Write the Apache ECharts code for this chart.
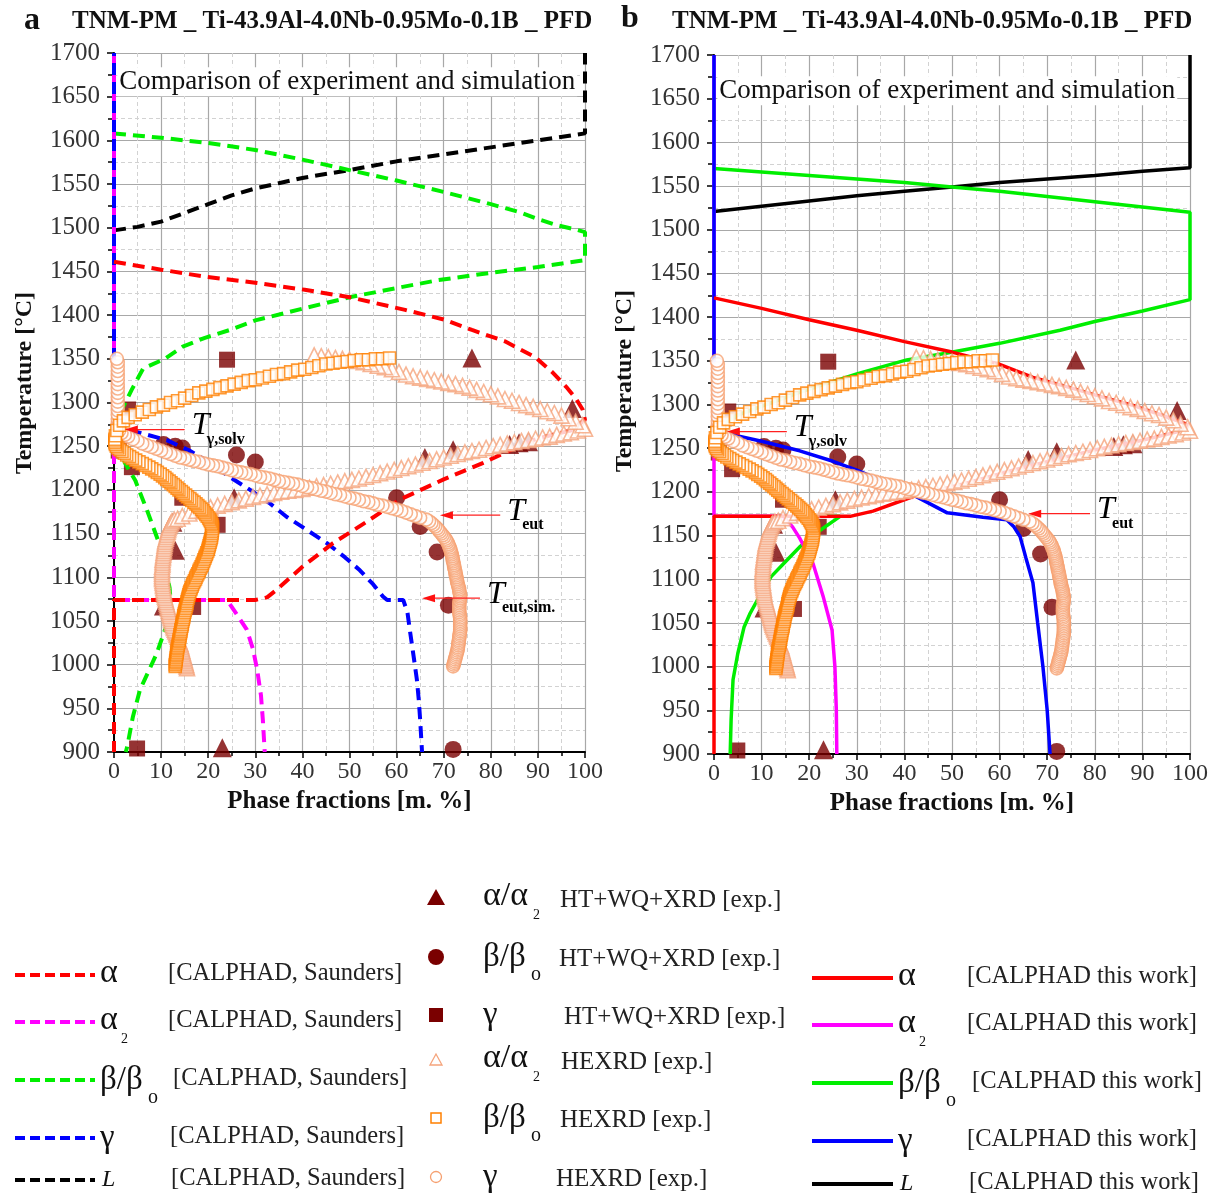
<!DOCTYPE html>
<html>
<head>
<meta charset="utf-8">
<title>TNM-PM phase fractions</title>
<script src="https://cdn.jsdelivr.net/npm/echarts@6.0.0/dist/echarts.min.js"></script>
<style>
html,body{margin:0;padding:0;background:#ffffff;}
#chart{width:1221px;height:1198px;}
</style>
</head>
<body>
<div id="chart"></div>
<script>
// ---------------- data ----------------
const X_TICKS = [0, 10, 20, 30, 40, 50, 60, 70, 80, 90, 100];
const Y_TICKS = [900, 950, 1000, 1050, 1100, 1150, 1200, 1250, 1300, 1350, 1400, 1450, 1500, 1550, 1600, 1650, 1700];
const X_NAME = 'Phase fractions [m. %]';
const Y_NAME = 'Temperature [°C]';
const PANEL_TITLE = 'TNM-PM _ Ti-43.9Al-4.0Nb-0.95Mo-0.1B _ PFD';
const PANEL_LETTERS = ['a', 'b'];
const BOX_TEXT = 'Comparison of experiment and simulation';

// CALPHAD, Saunders (panel a, dashed)  [phase fraction %, T °C]
const SAUNDERS_L = [[0,1497],[5,1501],[10,1507],[15,1517],[20,1527],[25,1537],[30,1545],[35,1551],[40,1557],[50,1566],[60,1576],[70,1584],[80,1592],[90,1600],[100,1608],[100,1700]];
const SAUNDERS_BETA = [[0,1608],[10,1603],[20,1597],[30,1589],[40,1578],[50,1566],[60,1554],[70,1541],[80,1527],[86,1518],[90,1510],[94,1503],[98,1498],[100,1495],[100,1463],[90,1455],[79.4,1448],[68.8,1440],[60,1431],[50.5,1421],[40.5,1408],[30,1394],[24.6,1383],[19.3,1374],[14.6,1364],[10.8,1350],[6.2,1339],[3.8,1315],[1.7,1292],[1.2,1270],[1.4,1250],[2.3,1231],[4.5,1211],[7.2,1174],[9.3,1143],[10.8,1115],[11.8,1088],[12,1075],[11.5,1050],[9,1012],[5.5,971],[4,940],[2.8,906],[2.5,900]];
const SAUNDERS_ALPHA = [[0,1461],[10,1452],[19.3,1444],[30,1437],[40.5,1429],[50.5,1420],[61.8,1406],[70,1395],[76,1383],[83,1370],[89.4,1352],[93,1335],[96,1318],[98,1305],[99.5,1292],[100,1280],[97,1268],[93,1263],[89,1257],[84,1245],[78.4,1231],[70,1212],[60.7,1189],[53.5,1163],[46.5,1139],[40,1112],[34.6,1086],[32.5,1077],[30,1074],[0,1074],[0,900]];
const SAUNDERS_ALPHA2 = [[0,1700],[0,1074],[24,1074],[26,1058],[28.2,1040],[29.5,1018],[30.4,994],[31.2,965],[31.6,937],[32,900]];
const SAUNDERS_GAMMA = [[0,1700],[0,1272],[1.3,1271],[5,1266],[11.2,1257],[16,1245],[20.4,1231],[24.5,1215],[28.9,1200],[33,1185],[36.7,1169],[41,1154],[45.2,1139],[49,1123],[52.2,1108],[55,1092],[57.1,1078],[58,1074],[61.4,1074],[62.3,1060],[62.8,1040],[63.6,1010],[64.3,983],[64.7,960],[65,937],[65.4,900]];

// CALPHAD, this work (panel b, solid)
const THIS_L = [[0,1521],[10,1527],[20,1533],[30,1539],[40,1544],[50,1549],[60,1554],[70,1558],[80,1562],[90,1567],[100,1571],[100,1700]];
const THIS_BETA = [[0,1570],[10,1566],[20,1562],[30,1558],[40,1554],[50,1549],[60,1544],[70,1538],[80,1532],[90,1526],[100,1520],[100,1420],[90,1407],[80,1395],[72.7,1385],[60,1370],[49,1359],[40.5,1351],[30,1335],[18,1314],[10,1298],[5,1288],[2,1278],[1,1268],[2,1250],[6,1230],[10,1215],[13.2,1202],[16,1188],[18.5,1177],[20,1172],[26.5,1172],[22,1155],[18,1137],[15,1120],[12,1103],[9.5,1080],[7.5,1060],[6.3,1045],[5,1015],[4,985],[3.6,940],[3.4,900]];
const THIS_ALPHA = [[0,1422],[10,1410],[20,1397],[30,1385],[40,1372],[50,1360],[60,1346],[67,1331],[75,1319],[80,1311],[88,1299],[94,1288],[100,1276],[97.5,1269],[90,1259],[80,1248],[74,1240],[63,1225],[53,1210],[42,1195],[33.4,1178],[28.6,1172],[0,1172],[0,900]];
const THIS_ALPHA2 = [[0,1700],[0,1172],[14.5,1172],[16.5,1160],[18,1147],[20.8,1118],[23,1079],[24.8,1042],[25.4,1000],[25.7,950],[25.8,900]];
const THIS_GAMMA = [[0,1700],[0,1270],[5,1264],[10,1258],[18,1247],[25,1235],[30,1225],[36,1211],[42,1196],[49,1176],[56.5,1171],[61.5,1168],[63,1160],[64.3,1149],[65.5,1125],[67,1096],[68,1050],[69.1,1000],[70,950],[70.6,900]];

// Experiments HT+WQ+XRD (filled, dark red)
const EXP_ALPHA = [[76,1351],[97.3,1293],[84,1252],[86,1254],[88,1255],[72,1246],[66,1237],[25.5,1191],[12.5,1163],[13,1131],[10.5,1067],[23,905]];
const EXP_BETA = [[10.5,1252],[13,1250],[14.5,1248],[26,1240],[30,1232],[60,1191],[65,1158],[68.6,1129],[71,1068],[72,903]];
const EXP_GAMMA = [[24,1349],[3,1292],[1,1245],[3.8,1226],[14.5,1191],[22,1160],[16.8,1066],[4.9,904]];

// Experiments HEXRD (hollow)
const HEXRD_ALPHA = [
[15.5,996],[15.4,998],[15.3,1000],[15.2,1002],[15.1,1004],[15.0,1006],[14.9,1008],[14.8,1010],[14.7,1012],[14.6,1014],[14.5,1016],[14.4,1018],[14.3,1020],[14.2,1022],[14.1,1024],[13.9,1026],[13.8,1028],[13.6,1030],[13.5,1032],[13.3,1034],[13.2,1036],[13.0,1038],[12.9,1040],[12.7,1042],[12.6,1044],[12.4,1046],[12.3,1048],[12.2,1050],[12.1,1052],[12.0,1054],[11.9,1056],[11.8,1058],[11.7,1060],[11.6,1062],[11.5,1064],[11.4,1066],[11.3,1068],[11.2,1070],[11.1,1072],[11.0,1074],[10.9,1076],[10.8,1078],[10.7,1080],[10.6,1082],[10.6,1084],[10.5,1086],[10.5,1088],[10.4,1090],[10.4,1092],[10.3,1094],[10.3,1096],[10.2,1098],[10.2,1100],[10.2,1102],[10.2,1104],[10.2,1106],[10.2,1108],[10.2,1110],[10.2,1112],[10.3,1114],[10.3,1116],[10.3,1118],[10.3,1120],[10.4,1122],[10.4,1124],[10.5,1126],[10.5,1128],[10.6,1130],[10.6,1132],[10.7,1134],[10.7,1136],[10.8,1138],[10.8,1140],[10.9,1142],[11.0,1144],[11.1,1146],[11.2,1148],[11.3,1150],[11.4,1152],[11.5,1154],[11.6,1156],[11.7,1158],[11.9,1160],[12.1,1162],[12.3,1164],[12.8,1166],[13.5,1167],
[14.5,1170],[16,1173],[17.5,1176],[19,1178],[20.5,1180],[22,1182],[23.5,1184],[25,1186],[26.5,1188],[28,1190],[29.5,1192],[31,1193.5],[32.5,1195],[34,1196.5],[35.5,1198],[37,1199],[38.5,1200],[40,1201],[41.5,1202.5],[43,1204],[44.5,1205.5],[46,1207],[47.5,1208.5],[49,1210],[50.5,1211.5],[52,1213],[53.5,1215],[55,1217],[56.5,1219],[58,1221],[59.5,1223],[61,1225],[62.5,1227],[64,1229],[65.5,1231],[67,1233],[68.5,1235],[70,1237],[71.5,1239],[73,1241],[74.5,1243],[76,1244.5],[77.5,1246],[79,1248],[80.5,1250],[82,1251.5],[83.5,1253],[85,1254.5],[86.5,1256],[88,1257],[89.5,1258.5],[91,1260],[92.5,1261],[94,1263],[95.5,1264.5],[97,1266],[98.5,1268],[100,1270],
[99.5,1274],[98,1278],[96.5,1282],[95,1285],[93.5,1288],[92,1290],[90.5,1292.5],[89,1295],[87.5,1297],[86,1299.5],[84.5,1302],[83,1304],[81.5,1307],[80,1309.5],[78.5,1312],[77,1314.5],[75.5,1317],[74,1319],[72.5,1321],[71,1322.5],[69.5,1324],[68,1325.5],[66.5,1327],[65,1328.5],[63.5,1330],[62,1332],[60.5,1335],[59,1338],[57.5,1340.5],[56,1342],[54.5,1344],[53,1346],[51.5,1347.5],[50,1349],[48.5,1350],[47,1351],[45.5,1352],[44,1353],[42.5,1354]];
const HEXRD_BETA = [
[13.0,998],[13.0,1000],[13.1,1002],[13.1,1004],[13.2,1006],[13.2,1008],[13.3,1010],[13.3,1012],[13.4,1014],[13.4,1016],[13.5,1018],[13.5,1020],[13.6,1022],[13.7,1024],[13.8,1026],[13.8,1028],[13.9,1030],[14.0,1032],[14.0,1034],[14.1,1036],[14.2,1038],[14.2,1040],[14.3,1042],[14.4,1044],[14.5,1046],[14.5,1048],[14.6,1050],[14.7,1052],[14.8,1054],[14.8,1056],[14.9,1058],[15.0,1060],[15.1,1062],[15.2,1064],[15.3,1066],[15.4,1068],[15.5,1070],[15.5,1072],[15.6,1074],[15.7,1076],[15.8,1078],[15.9,1080],[16.0,1082],[16.1,1084],[16.3,1086],[16.4,1088],[16.6,1090],[16.7,1092],[16.9,1094],[17.1,1096],[17.3,1098],[17.4,1100],[17.6,1102],[17.8,1104],[18.0,1106],[18.1,1108],[18.3,1110],[18.5,1112],[18.7,1114],[18.8,1116],[19.0,1118],[19.1,1120],[19.3,1122],[19.4,1124],[19.6,1126],[19.7,1128],[19.9,1130],[20.0,1132],[20.1,1134],[20.2,1136],[20.3,1138],[20.4,1140],[20.5,1142],[20.6,1144],[20.7,1146],[20.7,1148],[20.8,1150],[20.8,1152],[20.9,1154],[20.9,1156],[20.9,1158],[20.8,1160],[20.7,1162],[20.5,1164],[20.3,1166],[20.1,1168],[19.8,1170],
[19.5,1172],[19.2,1174],[18.9,1176],[18.6,1178],[18.2,1180],[17.8,1182],[17.4,1184],[17.0,1186],[16.5,1188],[16.1,1190],[15.6,1192],[15.2,1194],[14.7,1196],[14.3,1198],[13.8,1200],[13.4,1202],[13.0,1204],[12.6,1206],[12.1,1208],[11.7,1210],[11.2,1212],[10.8,1214],[10.3,1216],[9.8,1218],[9.2,1220],[8.7,1222],[8.0,1224],[7.4,1226],[6.7,1228],[6.0,1230],[5.3,1232],[4.6,1234],[3.9,1236],[3.3,1238],[2.7,1240],[2.2,1242],[1.7,1244],[1.2,1246],[0.8,1248],[0.5,1250],[0.3,1252],[0.2,1254],[0.2,1256],[0.2,1258],
[0.3,1262],[0.6,1268],[1.2,1274],[2,1279],[3,1283],[4.5,1286],[6,1289],[7.5,1292],[9,1295],[10.5,1297],[12,1300],[13.5,1302],[15,1305],[16.5,1308],[18,1311],[19.5,1313],[21,1315],[22.5,1317],[24,1319],[25.5,1321],[27,1323],[28.5,1325],[30,1326],[31.5,1328],[33,1330],[34.5,1332],[36,1333],[37.5,1335],[39,1337],[40.5,1338],[42,1340],[43.5,1342],[45,1344],[46.5,1345],[48,1346],[49.5,1347],[51,1348],[52.5,1349],[54,1349],[55.5,1350],[57,1350],[58.5,1351]];
const HEXRD_GAMMA = [
[72.0,998],[72.1,1000],[72.2,1002],[72.3,1004],[72.4,1006],[72.5,1008],[72.6,1010],[72.7,1012],[72.8,1014],[72.9,1016],[73.0,1018],[73.0,1020],[73.1,1022],[73.1,1024],[73.2,1026],[73.2,1028],[73.3,1030],[73.3,1032],[73.4,1034],[73.4,1036],[73.5,1038],[73.5,1040],[73.5,1042],[73.5,1044],[73.5,1046],[73.5,1048],[73.5,1050],[73.5,1052],[73.5,1054],[73.4,1056],[73.4,1058],[73.3,1060],[73.3,1062],[73.3,1064],[73.3,1066],[73.3,1068],[73.3,1070],[73.4,1072],[73.4,1074],[73.5,1076],[73.5,1078],[73.5,1080],[73.4,1082],[73.3,1084],[73.3,1086],[73.2,1088],[73.1,1090],[73.0,1092],[72.9,1094],[72.8,1096],[72.8,1098],[72.7,1100],[72.6,1102],[72.5,1104],[72.5,1106],[72.4,1108],[72.3,1110],[72.2,1112],[72.2,1114],[72.1,1116],[72.0,1118],[71.9,1120],[71.9,1122],[71.8,1124],[71.7,1126],[71.6,1128],[71.5,1130],[71.4,1132],[71.3,1134],[71.1,1136],[71.0,1138],[70.8,1140],[70.6,1142],[70.4,1144],[70.1,1146],[69.8,1148],[69.5,1150],[69.2,1152],[68.9,1154],[68.6,1156],[68.2,1158],[67.8,1160],[67.4,1162],[66.9,1164],[66.3,1166],
[65,1168],[64,1170],[63,1172],[62,1174],[61,1176],[60,1177.5],[59,1179],[58,1180.5],[57,1182],[56,1183],[55,1184.5],[54,1186],[53,1187],[52,1188.5],[51,1190],[50,1191],[49,1192.5],[48,1194],[47,1195],[46,1196.5],[45,1198],[44,1199],[43,1200.5],[42,1202],[41,1203],[40,1204.5],[39,1206],[38,1207],[37,1208],[36,1209],[35,1210],[34,1211.5],[33,1213],[32,1214],[31,1215],[30,1216.5],[29,1218],[28,1219],[27,1220],[26,1221],[25,1222.5],[24,1224],[23,1225.5],[22,1227],[21,1228],[20,1229],[19,1230.5],[18,1232],[17,1233],[16,1234.5],[15,1236],[14,1237],[13,1239],[12,1241],[11,1243],[10,1245],[9,1247],[8,1249],[7,1251],[6,1253],[5,1256],[4,1258],[3,1261],[2.3,1263],[1.6,1265],[1.1,1268],
[0.9,1271],[0.8,1276],[0.8,1281],[0.8,1286],[0.8,1291],[0.8,1296],[0.8,1301],[0.8,1306],[0.8,1311],[0.8,1316],[0.8,1321],[0.8,1326],[0.8,1331],[0.8,1336],[0.8,1341],[0.8,1346],[0.6,1350]];

// annotations: [subscript, temperature, arrow start %, arrow end %]
const ANNOT_A = [['γ,solv', 1269, 15, 2.3], ['eut', 1171, 82, 69.2], ['eut,sim.', 1076, 77.7, 65.4]];
const ANNOT_B = [['γ,solv', 1269, 15.3, 2.7], ['eut', 1175, 79, 66]];

// legend texts
const LEG_SAUNDERS = '[CALPHAD, Saunders]';
const LEG_THIS = '[CALPHAD this work]';
const LEG_HT = 'HT+WQ+XRD [exp.]';
const LEG_HEX = 'HEXRD [exp.]';

// ---------------- style ----------------
const FONT = '"Liberation Serif", "Times New Roman", serif';
const C_RED = '#ff0000', C_MAG = '#ff00ff', C_GREEN = '#00ee00', C_BLUE = '#0000ff', C_BLACK = '#000000';
const C_DARK = '#7a0000', C_TRI = '#f5a47c', C_SQ = '#ff8000', C_CIR = '#f6a070';

const chart = echarts.init(document.getElementById('chart'), null, {renderer: 'canvas'});

function xAxis(gi) {
  return {
    type: 'value', gridIndex: gi,
    min: X_TICKS[0], max: X_TICKS[X_TICKS.length - 1], interval: X_TICKS[1] - X_TICKS[0],
    name: X_NAME, nameLocation: 'middle', nameGap: 34,
    nameTextStyle: {fontFamily: FONT, fontWeight: 'bold', fontSize: 25, color: '#111'},
    axisLine: {show: true, onZero: false, lineStyle: {color: '#000', width: 2}},
    axisTick: {show: true, length: 6, lineStyle: {color: '#000', width: 1.5}},
    minorTick: {show: true, splitNumber: 2, length: 4, lineStyle: {color: '#000', width: 1.5}},
    splitLine: {show: true, lineStyle: {color: '#a8a8a8', width: 1.2}},
    minorSplitLine: {show: true, lineStyle: {color: '#d2d2d2', width: 1, type: [4, 3]}},
    axisLabel: {fontFamily: FONT, fontSize: 24, color: '#333', margin: 8, formatter: function (v) { return String(v); }}
  };
}
function yAxis(gi) {
  return {
    type: 'value', gridIndex: gi,
    min: Y_TICKS[0], max: Y_TICKS[Y_TICKS.length - 1], interval: Y_TICKS[1] - Y_TICKS[0],
    axisLine: {show: true, onZero: false, lineStyle: {color: '#000', width: 2}},
    axisTick: {show: true, length: 7, lineStyle: {color: '#000', width: 1.5}},
    minorTick: {show: true, splitNumber: 2, length: 6, lineStyle: {color: '#000', width: 1.5}},
    splitLine: {show: true, lineStyle: {color: '#a8a8a8', width: 1.2}},
    minorSplitLine: {show: true, lineStyle: {color: '#d2d2d2', width: 1, type: [4, 3]}},
    axisLabel: {fontFamily: FONT, fontSize: 25, color: '#333', margin: 14, formatter: function (v) { return String(v); }}
  };
}
function line(gi, data, color, dashed, offset) {
  return {
    type: 'line', xAxisIndex: gi, yAxisIndex: gi, data: data, symbol: 'none', showSymbol: false,
    smooth: false, silent: true, z: 3,
    lineStyle: {color: color, width: dashed ? 4 : 3.5, type: dashed ? [12, 7] : 'solid', dashOffset: offset || 0, cap: 'butt'}
  };
}
function dark(gi, data, symbol, size) {
  return {type: 'scatter', xAxisIndex: gi, yAxisIndex: gi, data: data, symbol: symbol, symbolSize: size,
    silent: true, z: 2, itemStyle: {color: C_DARK}};
}
function hollow(gi, data, symbol, size, color) {
  return {type: 'scatter', xAxisIndex: gi, yAxisIndex: gi, data: data, symbol: symbol, symbolSize: size,
    silent: true, z: 4, itemStyle: {color: '#ffffff', borderColor: color, borderWidth: 1.6}};
}
function panelSeries(gi, L, B, A, A2, G, dashed) {
  return [
    dark(gi, EXP_ALPHA, 'triangle', 19),
    dark(gi, EXP_BETA, 'circle', 17),
    dark(gi, EXP_GAMMA, 'rect', 16),
    line(gi, L, C_BLACK, dashed),
    line(gi, B, C_GREEN, dashed),
    line(gi, A2, C_MAG, dashed),
    line(gi, G, C_BLUE, dashed, 9),
    line(gi, A, C_RED, dashed),
    hollow(gi, HEXRD_ALPHA, 'triangle', 15, C_TRI),
    hollow(gi, HEXRD_GAMMA, 'circle', 13, C_CIR),
    hollow(gi, HEXRD_BETA, 'rect', 12, C_SQ)
  ];
}

const option = {
  backgroundColor: '#ffffff',
  animation: false,
  grid: [
    {left: 114, top: 53, width: 471, height: 699},
    {left: 714, top: 55, width: 476, height: 699}
  ],
  xAxis: [xAxis(0), xAxis(1)],
  yAxis: [yAxis(0), yAxis(1)],
  series: [].concat(
    panelSeries(0, SAUNDERS_L, SAUNDERS_BETA, SAUNDERS_ALPHA, SAUNDERS_ALPHA2, SAUNDERS_GAMMA, true),
    panelSeries(1, THIS_L, THIS_BETA, THIS_ALPHA, THIS_ALPHA2, THIS_GAMMA, false)
  )
};
chart.setOption(option);

// ---------------- graphics: titles, annotations, legend ----------------
const g = [];
function txt(x, y, s, size, opts) {
  opts = opts || {};
  g.push({type: 'text', x: x, y: y, z: 20, silent: true, rotation: opts.rot || 0,
    style: {text: s, fontFamily: FONT, fontSize: size, fontWeight: opts.bold ? 'bold' : 'normal',
      fontStyle: opts.italic ? 'italic' : 'normal', fill: opts.color || '#111',
      align: opts.align || 'left', verticalAlign: 'middle',
      backgroundColor: opts.bg, padding: opts.pad}});
}
// panel titles
txt(24, 21, PANEL_LETTERS[0], 32, {bold: true});
txt(72, 22, PANEL_TITLE, 25, {bold: true});
txt(621, 19, PANEL_LETTERS[1], 32, {bold: true});
txt(672, 22, PANEL_TITLE, 25, {bold: true});

// y axis names (rotated)
txt(25, 383, Y_NAME, 24, {bold: true, rot: Math.PI / 2, align: 'center'});
txt(625, 381, Y_NAME, 24, {bold: true, rot: Math.PI / 2, align: 'center'});

// comparison boxes (top-left of each plot, anchored to data coordinates)
function box(gi, xv, tv) {
  const p = chart.convertToPixel({gridIndex: gi}, [xv, tv]);
  txt(p[0], p[1], BOX_TEXT, 27, {bg: '#ffffff', pad: [1, 2, 1, 2]});
}
box(0, 0.7, 1667);
box(1, 0.7, 1659);

function annot(gi, list) {
  list.forEach(function (a) {
    const p1 = chart.convertToPixel({gridIndex: gi}, [a[2], a[1]]);
    const p2 = chart.convertToPixel({gridIndex: gi}, [a[3], a[1]]);
    g.push({type: 'line', z: 20, silent: true, shape: {x1: p1[0], y1: p1[1], x2: p2[0] + 9, y2: p2[1]},
      style: {stroke: '#ff2020', lineWidth: 1.3}});
    g.push({type: 'polygon', z: 20, silent: true,
      shape: {points: [[p2[0], p2[1]], [p2[0] + 13, p2[1] - 4], [p2[0] + 13, p2[1] + 4]]},
      style: {fill: '#ff1010'}});
    txt(p1[0] + 7, p1[1] - 4, 'T', 32, {italic: true, color: '#000'});
    txt(p1[0] + 22, p1[1] + 10, a[0], 16, {bold: true, color: '#000'});
  });
}
annot(0, ANNOT_A);
annot(1, ANNOT_B);

// legend helpers
function legLine(x1, x2, y, color, dashed) {
  g.push({type: 'line', z: 20, silent: true, shape: {x1: x1, y1: y, x2: x2, y2: y},
    style: {stroke: color, lineWidth: 4, lineDash: dashed ? [10, 5] : null, lineCap: 'butt'}});
}
function sym(x, y, name) {
  if (name === 'a') txt(x, y - 2, 'α', 34, {color: '#111'});
  if (name === 'a2') { txt(x, y - 2, 'α', 34, {color: '#111'}); txt(x + 21, y + 17, '2', 14, {color: '#111'}); }
  if (name === 'b') { txt(x, y, 'β/β', 33, {color: '#111'}); txt(x + 48, y + 18, 'o', 20, {color: '#111'}); }
  if (name === 'g') txt(x, y, 'γ', 33, {color: '#111'});
  if (name === 'L') txt(x + 2, y, 'L', 24, {italic: true, color: '#111'});
  if (name === 'aa2') { txt(x, y - 2, 'α/α', 34, {color: '#111'}); txt(x + 50, y + 17, '2', 14, {color: '#111'}); }
}
// left column: Saunders (dashed)
const leftRows = [[975, C_RED, 'a', 168], [1022, C_MAG, 'a2', 168], [1080, C_GREEN, 'b', 173], [1138, C_BLUE, 'g', 170], [1180, C_BLACK, 'L', 171]];
leftRows.forEach(function (r) {
  legLine(15, 95, r[0], r[1], true);
  sym(100, r[0], r[2]);
  txt(r[3], r[0] - 1, LEG_SAUNDERS, 24.5, {color: '#222'});
});
// right column: this work (solid)
const rightRows = [[978, C_RED, 'a', 967], [1025, C_MAG, 'a2', 967], [1083, C_GREEN, 'b', 972], [1141, C_BLUE, 'g', 967], [1184, C_BLACK, 'L', 969]];
rightRows.forEach(function (r) {
  legLine(812, 893, r[0], r[1], false);
  sym(898, r[0], r[2]);
  txt(r[3], r[0] - 1, LEG_THIS, 24.5, {color: '#222'});
});
// middle column: experiments
function legMarker(kind, x, y) {
  if (kind === 'tri') g.push({type: 'polygon', z: 20, silent: true, shape: {points: [[x, y - 9], [x - 9, y + 7], [x + 9, y + 7]]}, style: {fill: C_DARK}});
  if (kind === 'cir') g.push({type: 'circle', z: 20, silent: true, shape: {cx: x, cy: y, r: 8}, style: {fill: C_DARK}});
  if (kind === 'sq') g.push({type: 'rect', z: 20, silent: true, shape: {x: x - 7, y: y - 7, width: 14, height: 14}, style: {fill: C_DARK}});
  if (kind === 'htri') g.push({type: 'polygon', z: 20, silent: true, shape: {points: [[x, y - 6], [x - 6, y + 5], [x + 6, y + 5]]}, style: {fill: '#fff', stroke: C_TRI, lineWidth: 1.3}});
  if (kind === 'hsq') g.push({type: 'rect', z: 20, silent: true, shape: {x: x - 5, y: y - 5, width: 10, height: 10}, style: {fill: '#fff', stroke: C_SQ, lineWidth: 1.5}});
  if (kind === 'hcir') g.push({type: 'circle', z: 20, silent: true, shape: {cx: x, cy: y, r: 5.5}, style: {fill: '#fff', stroke: C_CIR, lineWidth: 1.3}});
}
const midRows = [[898, 'tri', 'aa2', LEG_HT, 560], [957, 'cir', 'b', LEG_HT, 559], [1015, 'sq', 'g', LEG_HT, 564],
  [1060, 'htri', 'aa2', LEG_HEX, 561], [1118, 'hsq', 'b', LEG_HEX, 560], [1177, 'hcir', 'g', LEG_HEX, 556]];
midRows.forEach(function (r) {
  legMarker(r[1], 436, r[0]);
  sym(483, r[0], r[2]);
  txt(r[4], r[0] + 2, r[3], 25, {color: '#222'});
});

chart.setOption({graphic: g});
</script>
</body>
</html>
